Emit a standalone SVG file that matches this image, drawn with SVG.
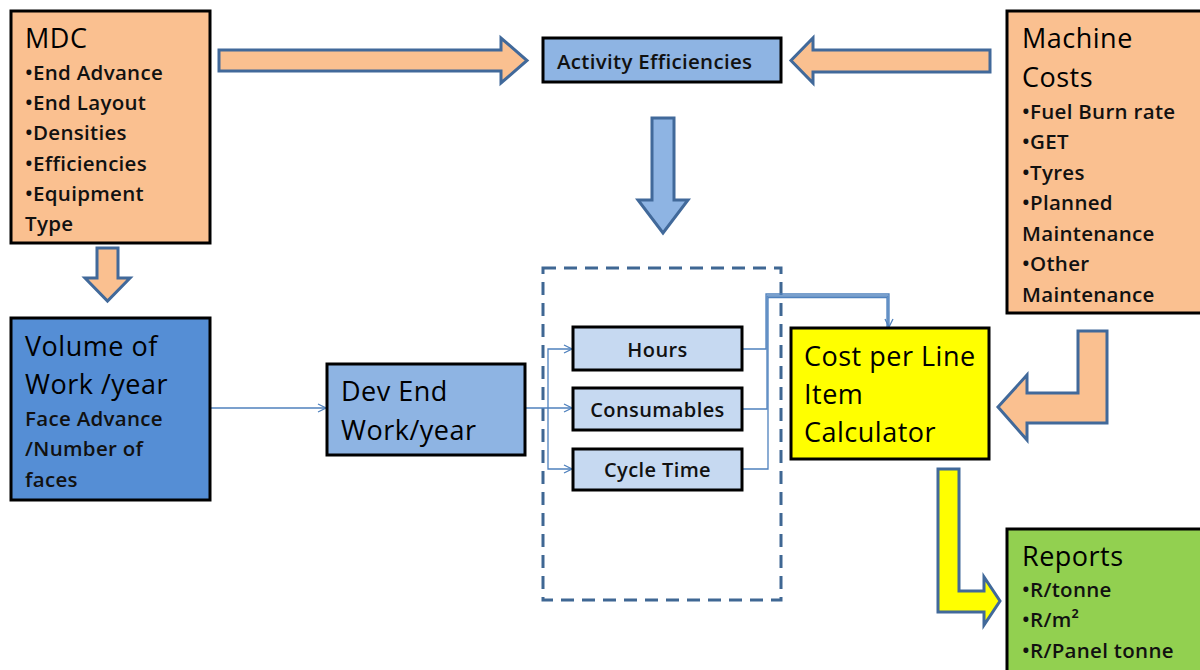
<svg xmlns="http://www.w3.org/2000/svg" width="1200" height="670" viewBox="0 0 1200 670">
  <defs>
    <marker id="open" viewBox="0 0 10 10" refX="9" refY="5" markerWidth="10" markerHeight="10" markerUnits="userSpaceOnUse" orient="auto">
      <path d="M1,1 L9,5 L1,9" fill="none" stroke="#4F81BD" stroke-width="1.3"/>
    </marker>
  </defs>
  <style>
    text { font-family: "Open Sans", Lato, "Liberation Sans", sans-serif; fill: #000; }
    .box { stroke: #000; stroke-width: 3; }
    .peach { fill: #FAC090; }
    .blue { fill: #8EB4E3; }
    .dblue { fill: #558ED5; }
    .light { fill: #C6D9F1; }
    .yellow { fill: #FFFF00; }
    .green { fill: #92D050; }
    .big { font-size: 27px; letter-spacing: 0.5px; }
    .small { font-size: 20.5px; font-weight: 600; letter-spacing: 0.3px; fill: #111; }
    .mid { font-size: 20px; font-weight: 600; letter-spacing: 0.4px; fill: #111; }
    .barrow { stroke: #41699A; stroke-width: 3; stroke-linejoin: miter; }
    .link { fill: none; stroke: #4F81BD; stroke-width: 1.3; }
    .frame { fill: none; stroke: #3F6793; stroke-width: 3; stroke-dasharray: 13 8; }
  </style>
  <rect width="1200" height="670" fill="#fff"/>

  <!-- block arrows -->
  <g id="block-arrows">
    <path class="barrow peach" d="M219,50 L501,50 L501,38 L527,60.5 L501,83 L501,71 L219,71 Z"/>
    <path class="barrow peach" d="M990,50 L813,50 L813,38 L791,60.5 L813,83 L813,72 L990,72 Z"/>
    <path class="barrow blue" d="M652,118 L674,118 L674,200 L688,200 L663,233 L638,200 L652,200 Z"/>
    <path class="barrow peach" d="M97,248 L118,248 L118,278 L130,278 L107.5,301 L85,278 L97,278 Z"/>
    <path class="barrow peach" d="M1078,331 L1107,331 L1107,423 L1027,423 L1027,440 L998,407 L1027,375 L1027,393 L1078,393 Z"/>
    <path class="barrow yellow" d="M938,469 L959,469 L959,591 L984,591 L984,577 L1000,601 L984,625 L984,612 L938,612 Z"/>
  </g>

  <!-- dashed grouping frame -->
  <rect class="frame" x="543" y="268" width="238" height="332"/>

  <!-- thin connectors -->
  <g id="connectors">
    <path class="link" d="M210,408 L326,408" marker-end="url(#open)"/>
    <path class="link" d="M525,408 L572,408" marker-end="url(#open)"/>
    <path class="link" d="M548,408 L548,349 L572,349" marker-end="url(#open)"/>
    <path class="link" d="M548,408 L548,469 L572,469" marker-end="url(#open)"/>
    <path class="link" d="M742,349 L766,349 L766,294 L889,294 L889,327" marker-end="url(#open)"/>
    <path class="link" d="M742,409 L767,409 L767,296 L888,296 L888,327"/>
    <path class="link" d="M742,469 L768,469 L768,297.5 L887,297.5 L887,327"/>
  </g>

  <g id="mdc">
    <rect class="box peach" x="11" y="11" width="199" height="232"/>
    <text class="big" x="25" y="48">MDC</text>
    <text class="small" x="25" y="80">•End Advance</text>
    <text class="small" x="25" y="110">•End Layout</text>
    <text class="small" x="25" y="140">•Densities</text>
    <text class="small" x="25" y="171">•Efficiencies</text>
    <text class="small" x="25" y="201">•Equipment</text>
    <text class="small" x="25" y="231">Type</text>
  </g>

  <g id="activity-efficiencies">
    <rect class="box blue" x="543" y="38" width="238" height="44"/>
    <text class="small" x="557" y="69">Activity Efficiencies</text>
  </g>

  <g id="machine-costs">
    <rect class="box peach" x="1007" y="11" width="200" height="302"/>
    <text class="big" x="1022" y="48">Machine</text>
    <text class="big" x="1022" y="87">Costs</text>
    <text class="small" x="1022" y="119">•Fuel Burn rate</text>
    <text class="small" x="1022" y="149">•GET</text>
    <text class="small" x="1022" y="180">•Tyres</text>
    <text class="small" x="1022" y="210">•Planned</text>
    <text class="small" x="1022" y="241">Maintenance</text>
    <text class="small" x="1022" y="271">•Other</text>
    <text class="small" x="1022" y="302">Maintenance</text>
  </g>

  <g id="volume-of-work">
    <rect class="box dblue" x="11" y="318" width="199" height="182"/>
    <text class="big" x="25" y="356">Volume of</text>
    <text class="big" x="25" y="394">Work /year</text>
    <text class="small" x="25" y="426">Face Advance</text>
    <text class="small" x="25" y="456">/Number of</text>
    <text class="small" x="25" y="487">faces</text>
  </g>

  <g id="dev-end">
    <rect class="box blue" x="327" y="364" width="198" height="91"/>
    <text class="big" x="341" y="401">Dev End</text>
    <text class="big" x="341" y="440">Work/year</text>
  </g>

  <g id="hours">
    <rect class="box light" x="573" y="327" width="169" height="43"/>
    <text class="mid" x="657.5" y="357" text-anchor="middle">Hours</text>
  </g>

  <g id="consumables">
    <rect class="box light" x="573" y="388" width="169" height="42"/>
    <text class="mid" x="657.5" y="417" text-anchor="middle">Consumables</text>
  </g>

  <g id="cycle-time">
    <rect class="box light" x="573" y="449" width="169" height="41"/>
    <text class="mid" x="657.5" y="477" text-anchor="middle">Cycle Time</text>
  </g>

  <g id="cost-calculator">
    <rect class="box yellow" x="791" y="328" width="198" height="131"/>
    <text class="big" x="804" y="366">Cost per Line</text>
    <text class="big" x="804" y="404">Item</text>
    <text class="big" x="804" y="442">Calculator</text>
  </g>

  <g id="reports">
    <rect class="box green" x="1007" y="529" width="200" height="150"/>
    <text class="big" x="1022" y="566">Reports</text>
    <text class="small" x="1022" y="597">•R/tonne</text>
    <text class="small" x="1022" y="627">•R/m²</text>
    <text class="small" x="1022" y="658">•R/Panel tonne</text>
  </g>
</svg>
